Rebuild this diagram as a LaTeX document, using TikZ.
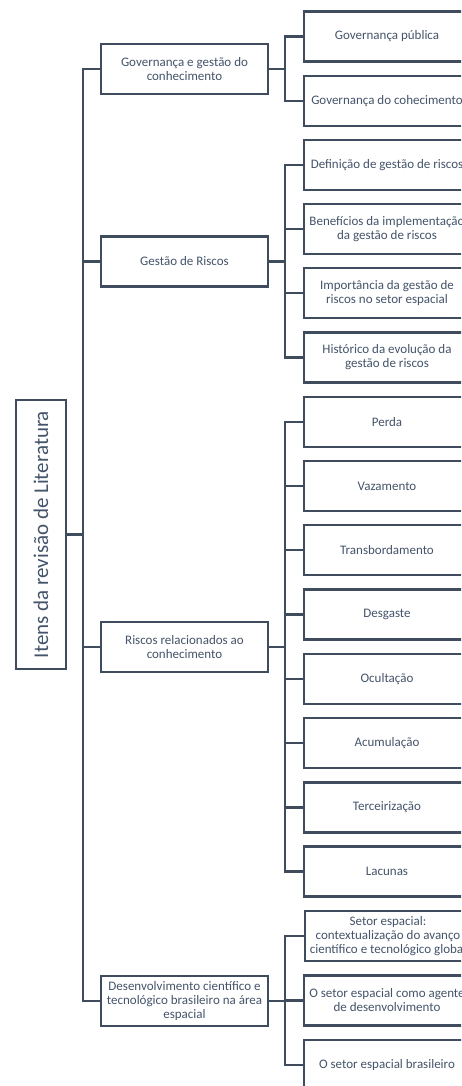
\documentclass[tikz,border=0pt]{standalone}
\usepackage{fontspec}
\setmainfont{Carlito}
\definecolor{lineC}{HTML}{3E4C5E}
\definecolor{textC}{HTML}{44546A}
\begin{document}
\begin{tikzpicture}[x=1pt,y=-1pt,
  box/.style={draw=lineC,line width=2.2pt,text=textC,align=center,inner sep=0pt,
    font=\fontsize{13}{14}\selectfont},
  lone/.style={box,minimum width=167,minimum height=50},
  ltwo/.style={box,minimum width=166,minimum height=50},
  conn/.style={draw=lineC,line width=2.2pt}]
\clip (0,0) rectangle (461,1086);
\fill[white] (0,0) rectangle (461,1086);
% root
\node[box,rotate=90,minimum width=269,minimum height=50,font=\fontsize{21}{24}\selectfont] (root) at (41,534.5) {Itens da revisão de Literatura};
% level 1
\node[lone] (a) at (184.5,69) {Governança e gestão do\\conhecimento};
\node[lone] (b) at (184.5,261.5) {Gestão de Riscos};
\node[lone] (c) at (184.5,647) {Riscos relacionados ao\\conhecimento};
\node[lone] (d) at (184.5,1001) {Desenvolvimento científico e\\tecnológico brasileiro na área\\espacial};
% level 2
\node[ltwo] (a1) at (387,36.5) {Governança pública};
\node[ltwo] (a2) at (387,101) {Governança do cohecimento};
\node[ltwo] (b1) at (387,165) {Definição de gestão de riscos};
\node[ltwo] (b2) at (387,229) {Benefícios da implementação\\da gestão de riscos};
\node[ltwo] (b3) at (387,293) {Importância da gestão de\\riscos no setor espacial};
\node[ltwo] (b4) at (387,357.5) {Histórico da evolução da\\gestão de riscos};
\node[ltwo] (c1) at (387,422) {Perda};
\node[ltwo] (c2) at (387,486) {Vazamento};
\node[ltwo] (c3) at (387,550) {Transbordamento};
\node[ltwo] (c4) at (387,614.5) {Desgaste};
\node[ltwo] (c5) at (387,679) {Ocultação};
\node[ltwo] (c6) at (387,743) {Acumulação};
\node[ltwo] (c7) at (387,807.5) {Terceirização};
\node[ltwo] (c8) at (387,871.5) {Lacunas};
\node[ltwo] (d1) at (388,936) {Setor espacial:\\contextualização do avanço\\científico e tecnológico global};
\node[ltwo] (d2) at (387,1000.5) {O setor espacial como agente\\de desenvolvimento};
\node[ltwo] (d3) at (387,1065) {O setor espacial brasileiro};
% connectors
\foreach \n in {a,b,c,d} \draw[conn] (root.south) -- ++(16,0) |- (\n.west);
\foreach \n in {a1,a2} \draw[conn] (a.east) -- ++(16,0) |- (\n.west);
\foreach \n in {b1,b2,b3,b4} \draw[conn] (b.east) -- ++(16,0) |- (\n.west);
\foreach \n in {c1,c2,c3,c4,c5,c6,c7,c8} \draw[conn] (c.east) -- ++(16,0) |- (\n.west);
\foreach \n in {d1,d2,d3} \draw[conn] (d.east) -- ++(16,0) |- (\n.west);
\end{tikzpicture}
\end{document}
